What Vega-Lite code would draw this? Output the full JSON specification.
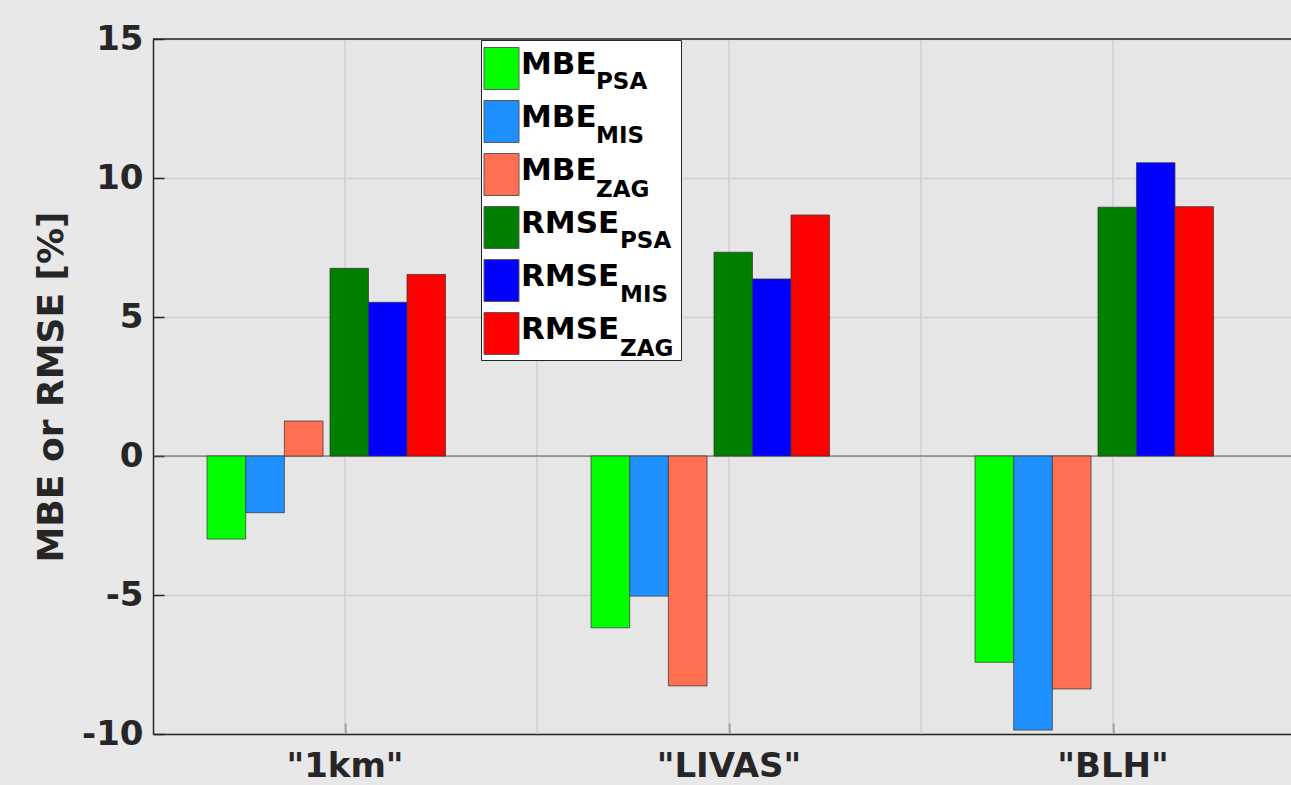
{
  "$schema": "https://vega.github.io/schema/vega-lite/v6.json",
  "width": 1138,
  "height": 695,
  "autosize": {"type": "none"},
  "padding": {"left": 153, "top": 39, "right": 0, "bottom": 51},
  "background": "#e8e8e8",
  "config": {
    "view": {"fill": "#e6e6e6", "stroke": null},
    "font": "DejaVu Sans"
  },
  "datasets": {
    "mbe": [
      {"cat": "1km", "series": "MBE_PSA", "station": "PSA", "value": -2.99},
      {"cat": "1km", "series": "MBE_MIS", "station": "MIS", "value": -2.04},
      {"cat": "1km", "series": "MBE_ZAG", "station": "ZAG", "value": 1.26},
      {"cat": "LIVAS", "series": "MBE_PSA", "station": "PSA", "value": -6.18},
      {"cat": "LIVAS", "series": "MBE_MIS", "station": "MIS", "value": -5.04},
      {"cat": "LIVAS", "series": "MBE_ZAG", "station": "ZAG", "value": -8.27},
      {"cat": "BLH", "series": "MBE_PSA", "station": "PSA", "value": -7.42},
      {"cat": "BLH", "series": "MBE_MIS", "station": "MIS", "value": -9.86},
      {"cat": "BLH", "series": "MBE_ZAG", "station": "ZAG", "value": -8.38}
    ],
    "rmse": [
      {"cat": "1km", "series": "RMSE_PSA", "station": "PSA", "value": 6.75},
      {"cat": "1km", "series": "RMSE_MIS", "station": "MIS", "value": 5.53},
      {"cat": "1km", "series": "RMSE_ZAG", "station": "ZAG", "value": 6.53},
      {"cat": "LIVAS", "series": "RMSE_PSA", "station": "PSA", "value": 7.33},
      {"cat": "LIVAS", "series": "RMSE_MIS", "station": "MIS", "value": 6.37},
      {"cat": "LIVAS", "series": "RMSE_ZAG", "station": "ZAG", "value": 8.67},
      {"cat": "BLH", "series": "RMSE_PSA", "station": "PSA", "value": 8.95},
      {"cat": "BLH", "series": "RMSE_MIS", "station": "MIS", "value": 10.55},
      {"cat": "BLH", "series": "RMSE_ZAG", "station": "ZAG", "value": 8.97}
    ],
    "cats": [{"cat": "1km"}, {"cat": "LIVAS"}, {"cat": "BLH"}],
    "bounds": [{"cat": "LIVAS"}, {"cat": "BLH"}]
  },
  "layer": [
    {
      "data": {"name": "cats"},
      "mark": {"type": "rule", "color": "#cfcfcf", "strokeWidth": 1.5},
      "encoding": {
        "x": {"field": "cat", "type": "nominal", "bandPosition": 0.5}
      }
    },
    {
      "data": {"name": "bounds"},
      "mark": {"type": "rule", "color": "#cfcfcf", "strokeWidth": 1.5},
      "encoding": {
        "x": {"field": "cat", "type": "nominal", "bandPosition": 0}
      }
    },
    {
      "data": {"values": [{}]},
      "mark": {"type": "rule", "color": "#5c5c5c", "strokeWidth": 1.2},
      "encoding": {"y": {"datum": 0}}
    },
    {
      "data": {"name": "mbe"},
      "mark": {"type": "bar", "stroke": "#333333", "strokeWidth": 1, "strokeOpacity": 0.7},
      "encoding": {
        "x": {
          "field": "cat", "type": "nominal",
          "scale": {"domain": ["1km", "LIVAS", "BLH"], "range": [0, 1152], "paddingInner": 0, "paddingOuter": 0},
          "axis": {
            "title": null, "labelAngle": 0, "bandPosition": 0.5,
            "labelExpr": "'\"' + datum.label + '\"'",
            "labelAlign": "center", "labelBaseline": "top",
            "labelFont": "DejaVu Sans", "labelFontWeight": "bold", "labelFontSize": 34, "labelColor": "#262626",
            "labelPadding": 26, "tickSize": -11, "tickColor": "#262626", "tickWidth": 1.5,
            "domainColor": "#262626", "domainWidth": 1.5, "grid": false
          }
        },
        "xOffset": {
          "field": "series", "type": "nominal",
          "scale": {"domain": ["MBE_PSA", "MBE_MIS", "MBE_ZAG", "m4", "m5", "m6", "m7", "m8"], "paddingInner": 0, "paddingOuter": 0.965, "align": 0.724}
        },
        "y": {
          "field": "value", "type": "quantitative",
          "scale": {"domain": [-10, 15], "nice": false},
          "axis": {
            "title": "MBE or RMSE [%]", "values": [-10, -5, 0, 5, 10, 15],
            "labelExpr": "'' + datum.value",
            "titleFont": "DejaVu Sans", "titleFontWeight": "bold", "titleFontSize": 36, "titleColor": "#262626", "titlePadding": 11,
            "labelFont": "DejaVu Sans", "labelFontWeight": "bold", "labelFontSize": 34, "labelColor": "#262626",
            "labelPadding": 21, "tickSize": -11, "tickColor": "#262626", "tickWidth": 1.5,
            "domainColor": "#262626", "domainWidth": 1.5,
            "grid": true, "gridColor": "#cfcfcf", "gridWidth": 1.5
          }
        },
        "y2": {"datum": 0},
        "color": {
          "field": "series", "type": "nominal",
          "scale": {
            "domain": ["MBE_PSA", "MBE_MIS", "MBE_ZAG", "RMSE_PSA", "RMSE_MIS", "RMSE_ZAG"],
            "range": ["#00ff00", "#1e90ff", "#ff6f51", "#008000", "#0000ff", "#ff0000"]
          },
          "legend": {
            "orient": "none", "legendX": 328, "legendY": 1,
            "title": "MBE", "titleOrient": "right", "titleOpacity": 0, "titleFontSize": 20, "titleFontWeight": "bold", "titlePadding": 10,
            "padding": 3, "fillColor": "#ffffff", "strokeColor": "#262626",
            "symbolType": "M-0.7,-0.84H0.7V0.84H-0.7Z", "symbolSize": 2500,
            "symbolStrokeColor": "#5a5a5a", "symbolStrokeWidth": 1, "symbolOffset": -8,
            "labelOffset": -6, "labelLimit": 400,
            "labelFont": "DejaVu Sans", "labelFontWeight": "bold", "labelFontSize": 31, "labelColor": "#000000",
            "rowPadding": 4,
            "labelExpr": "split(datum.label, '_')[0]",
            "encode": {"labels": {"update": {"dy": {"value": -3.5}}}}
          }
        },
        "opacity": {
          "field": "station", "type": "ordinal", "sort": ["PSA", "MIS", "ZAG"],
          "scale": {"domain": ["PSA", "MIS", "ZAG"], "range": [1, 1]},
          "legend": {
            "orient": "none", "legendX": 397, "legendY": 1, "title": null, "padding": 3,
            "symbolType": "M-0.7,-0.84H0.7V0.84H-0.7Z", "symbolSize": 2500,
            "symbolStrokeWidth": 1, "symbolOffset": -8, "symbolFillColor": "transparent", "symbolStrokeColor": "transparent",
            "labelOffset": 0, "labelFont": "DejaVu Sans", "labelFontWeight": "bold", "labelFontSize": 23, "labelColor": "#000000",
            "rowPadding": 3,
            "encode": {"symbols": {"update": {"opacity": {"value": 0}}}, "labels": {"update": {"dy": {"value": 13}}}}
          }
        }
      }
    },
    {
      "data": {"name": "rmse"},
      "mark": {"type": "bar", "stroke": "#333333", "strokeWidth": 1, "strokeOpacity": 0.7},
      "encoding": {
        "x": {"field": "cat", "type": "nominal"},
        "xOffset": {
          "field": "series", "type": "nominal",
          "scale": {"domain": ["r1", "r2", "r3", "RMSE_PSA", "RMSE_MIS", "RMSE_ZAG", "r7", "r8"], "paddingInner": 0, "paddingOuter": 0.987, "align": 0.809}
        },
        "y": {"field": "value", "type": "quantitative"},
        "y2": {"datum": 0},
        "color": {"field": "series", "type": "nominal"},
        "opacity": {
          "field": "station", "type": "ordinal", "sort": ["PSA", "MIS", "ZAG"],
          "scale": {"domain": ["PSA", "MIS", "ZAG"], "range": [1, 1]},
          "legend": {
            "orient": "none", "legendX": 421, "legendY": 160, "title": null, "padding": 3,
            "symbolType": "M-0.7,-0.84H0.7V0.84H-0.7Z", "symbolSize": 2500,
            "symbolStrokeWidth": 1, "symbolOffset": -8, "symbolFillColor": "transparent", "symbolStrokeColor": "transparent",
            "labelOffset": 0, "labelFont": "DejaVu Sans", "labelFontWeight": "bold", "labelFontSize": 23, "labelColor": "#000000",
            "rowPadding": 3,
            "encode": {"symbols": {"update": {"opacity": {"value": 0}}}, "labels": {"update": {"dy": {"value": 13}}}}
          }
        }
      }
    },
    {
      "data": {"values": [{}]},
      "mark": {"type": "rule", "color": "#262626", "strokeWidth": 1.5},
      "encoding": {"y": {"datum": 15}}
    }
  ],
  "resolve": {
    "scale": {"xOffset": "independent", "opacity": "independent"},
    "legend": {"opacity": "independent"}
  }
}
